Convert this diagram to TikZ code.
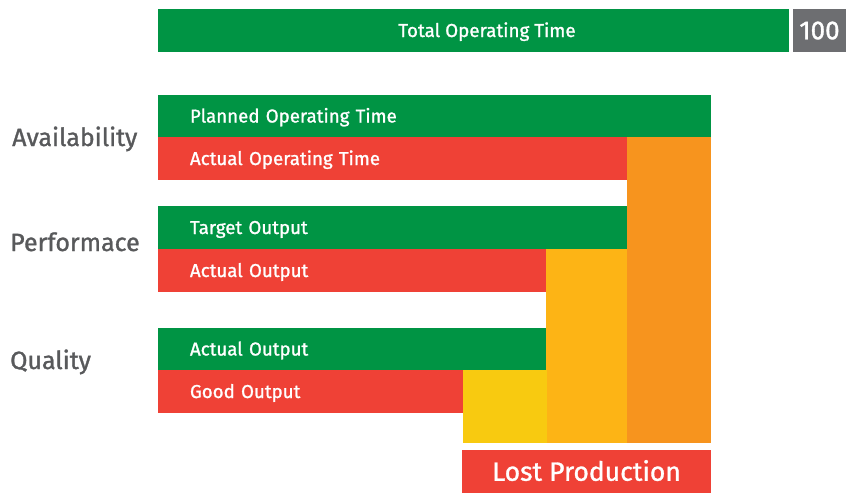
\documentclass[tikz,border=0pt]{standalone}
\usepackage{fontspec}
\setmainfont{Fira Sans}[BoldFont={Fira Sans}, BoldFeatures={FakeBold=1.2}]
\definecolor{gGreen}{HTML}{009444}
\definecolor{gRed}{HTML}{EF4136}
\definecolor{gOrange}{HTML}{F7941E}
\definecolor{gAmber}{HTML}{FDB415}
\definecolor{gYellow}{HTML}{F8CA10}
\definecolor{gGray}{HTML}{6D6E71}
\definecolor{gText}{HTML}{58595B}
\begin{document}
\begin{tikzpicture}[x=1pt,y=-1pt,
  box/.style={anchor=north west, inner sep=0pt, outer sep=0pt, draw=none},
  bar/.style={box, text=white, font=\bfseries\fontsize{18.7}{22}\selectfont, text height=13pt, text depth=0pt, align=left, inner xsep=32pt},
  rowlabel/.style={anchor=base west, inner sep=0pt, text=gText, font=\bfseries\fontsize{25}{29}\selectfont}]
\useasboundingbox (0,0) rectangle (846,493);
% columns of loss
\node[box, fill=gOrange, minimum width=84pt, minimum height=306pt] (colA) at (627,137) {};
\node[box, fill=gAmber, minimum width=81pt, minimum height=194pt] (colP) at (546,249) {};
\node[box, fill=gYellow, minimum width=84pt, minimum height=73pt] (colQ) at (463,370) {};
% top bar
\node[box, fill=gGreen, minimum width=631pt, minimum height=43pt, text=white, font=\bfseries\fontsize{18.8}{22}\selectfont, text height=13pt, text depth=0pt] (total) at (158,9) {\hspace*{27pt}Total Operating Time};
\node[box, fill=gGray, minimum width=53pt, minimum height=43pt, text=white, font=\bfseries\fontsize{26}{30}\selectfont, text height=17.5pt, text depth=0pt] (hundred) at (793,9) {100};
% availability
\node[bar, fill=gGreen, text width=489pt, minimum height=42pt] (planned) at (158,95) {Planned Operating Time};
\node[bar, fill=gRed, text width=405pt, minimum height=43pt] (actop) at (158,137) {Actual Operating Time};
% performance
\node[bar, fill=gGreen, text width=405pt, minimum height=43pt] (target) at (158,206) {Target Output};
\node[bar, fill=gRed, text width=324pt, minimum height=43pt] (actout) at (158,249) {Actual Output};
% quality
\node[bar, fill=gGreen, text width=324pt, minimum height=42pt] (qactout) at (158,328) {Actual Output};
\node[bar, fill=gRed, text width=241pt, minimum height=43pt] (good) at (158,370) {Good Output};
% lost production
\node[box, fill=gRed, minimum width=249pt, minimum height=43pt, text=white, font=\bfseries\fontsize{26.5}{31}\selectfont, text height=18.5pt, text depth=0pt] (lost) at (462,450) {Lost Production};
% row labels
\node[rowlabel] (avail) at (12,146) {Availability};
\node[rowlabel] (perf) at (10,251) {Performace};
\node[rowlabel] (qual) at (10,369) {Quality};
\end{tikzpicture}
\end{document}
